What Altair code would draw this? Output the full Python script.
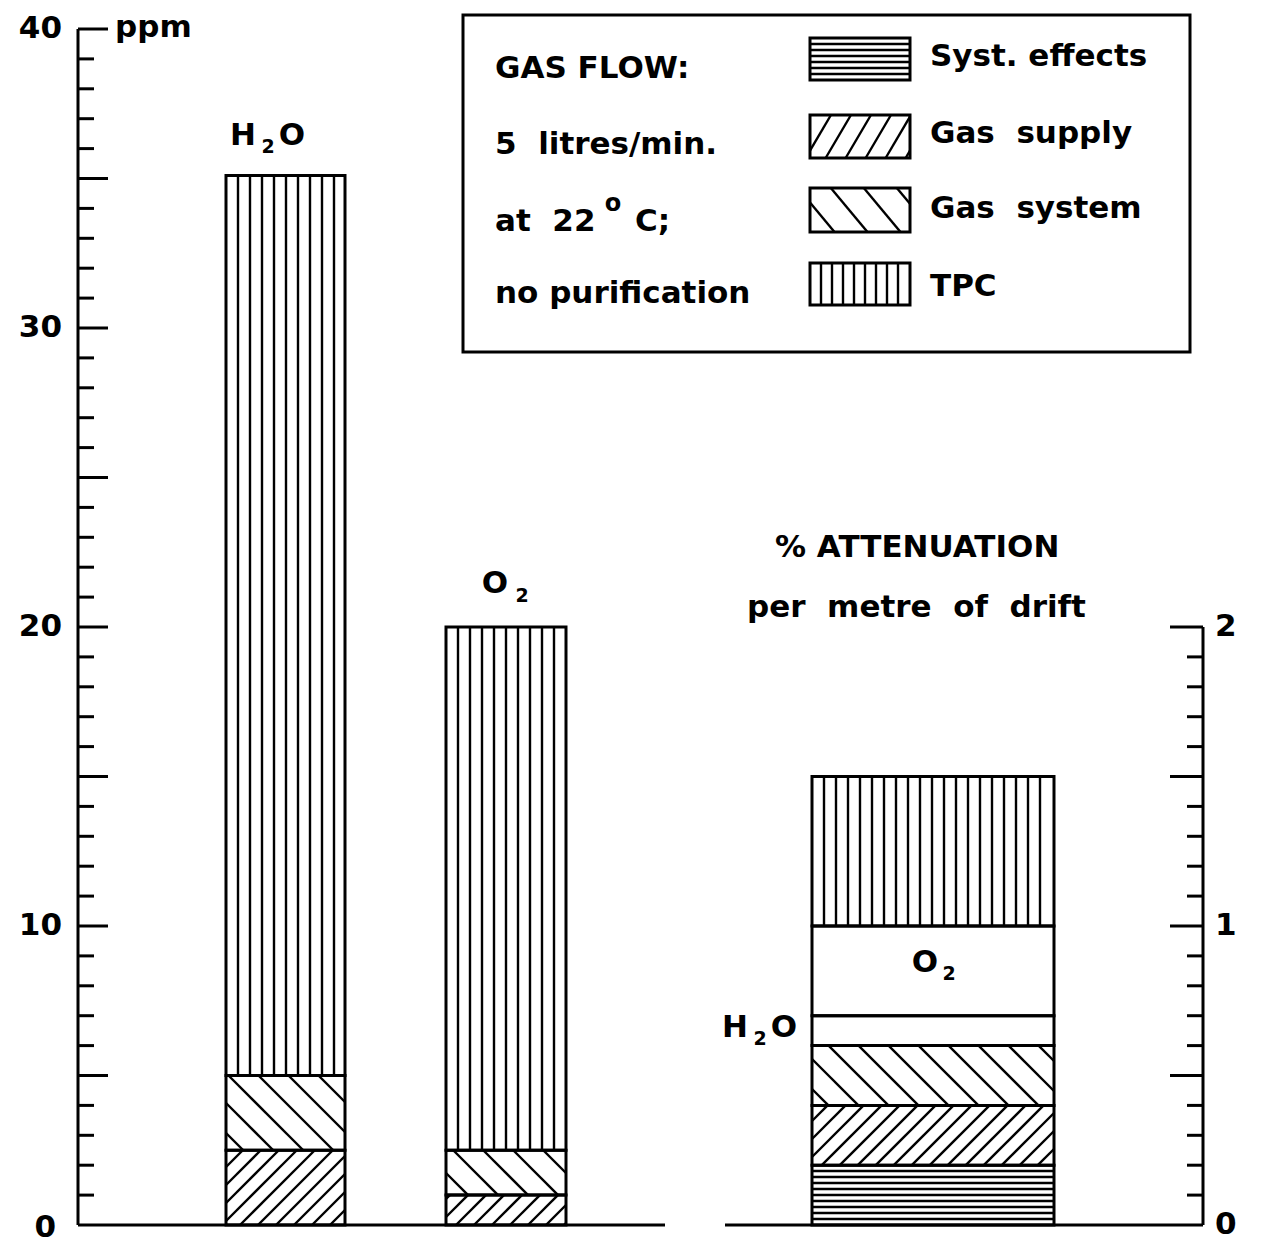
import math
import altair as alt
import pandas as pd

# ---------------- data ----------------
contam_categories = ["Gas supply", "Gas system", "TPC"]
h2o_ppm = [2.5, 2.5, 30.1]          # stacked contributions, ppm
o2_ppm = [1.0, 1.5, 17.5]           # stacked contributions, ppm

atten_categories = ["Syst. effects", "Gas supply", "Gas system", "H2O", "O2", "TPC"]
atten_pct = [0.2, 0.2, 0.2, 0.1, 0.3, 0.5]   # % attenuation per metre of drift

ppm_label_values = [0, 10, 20, 30, 40]
ppm_major_ticks = [5, 10, 15, 20, 25, 30, 35, 40]
ppm_minor_ticks = [v for v in range(1, 40) if v % 5 != 0]
att_label_values = [0, 1, 2]
att_major_ticks = [0.5, 1.0, 1.5, 2.0]
att_minor_ticks = [round(0.1 * i, 1) for i in range(1, 20) if i % 5 != 0]

legend_categories = ["Syst. effects", "Gas\u00a0 supply", "Gas\u00a0 system", "TPC"]
legend_category_keys = ["Syst. effects", "Gas supply", "Gas system", "TPC"]
legend_notes = ["GAS FLOW:", "5\u00a0 litres/min.", "at\u00a0 22", "no purification"]

# ---------------- layout ----------------
W, H = 1125, 1196
TOP = 21                     # plot-area top, px inside the chart
OFF = 4                      # pixel-layout values below were measured for a plot top 4 px higher
YMAX = 40.0
K = H / YMAX                 # px per ppm
PCT_TO_PPM = 10.0            # 1 % attenuation drawn as 10 ppm of height
bar_x = {"H2O": (148, 267), "O2": (368, 488), "ATT": (734, 976)}
FONT = "DejaVu Sans"
FS = 31
SUB = 19

pattern = {"Syst. effects": ("h", 6, 1.0), "Gas supply": ("fwd", 18, 1.0),
           "Gas system": ("back", 30, 1.0), "TPC": ("v", 12, 1.0),
           "H2O": (None, 0, 0), "O2": (None, 0, 0)}
legend_pattern = {"Syst. effects": ("h", 6, 1.0), "Gas supply": ("fwd", 20, 1.7),
                  "Gas system": ("back", 33, 1.2), "TPC": ("v", 11, 1.0)}


def hatch(x0, x1, y0, y1, kind, d, m):
    u0, u1, v0, v1 = x0, x1, y0 * K, y1 * K
    segs = []
    if kind == "v":
        u = u0 + d
        while u < u1 - 3:
            segs.append((u, u, v0, v1)); u += d
    elif kind == "h":
        v = v0 + d
        while v < v1 - 2:
            segs.append((u0, u1, v, v)); v += d
    elif kind == "fwd":
        for k in range(math.floor((u0 - v1 / m) / d), math.ceil((u1 - v0 / m) / d) + 1):
            c = k * d
            lo, hi = max(u0, c + v0 / m), min(u1, c + v1 / m)
            if hi - lo > 1:
                segs.append((lo, hi, m * (lo - c), m * (hi - c)))
    elif kind == "back":
        for k in range(math.floor((u0 + v0 / m) / d), math.ceil((u1 + v1 / m) / d) + 1):
            c = k * d
            lo, hi = max(u0, c - v1 / m), min(u1, c - v0 / m)
            if hi - lo > 1:
                segs.append((lo, hi, m * (c - lo), m * (c - hi)))
    return [dict(x=a, x2=b, y=va / K, y2=vb / K) for a, b, va, vb in segs]


rects, lines = [], []


def add_stack(bar, cats, vals, scale):
    x0, x1 = bar_x[bar]
    base = 0.0
    for c, v in zip(cats, vals):
        top = base + v * scale
        rects.append(dict(x=x0, x2=x1, y=base, y2=top, cat=c))
        kind, d, m = pattern[c]
        if kind:
            lines.extend(hatch(x0, x1, base, top, kind, d, m))
        base = top


add_stack("H2O", contam_categories, h2o_ppm, 1.0)
add_stack("O2", contam_categories, o2_ppm, 1.0)
add_stack("ATT", atten_categories, atten_pct, PCT_TO_PPM)

# legend swatches (pixel layout -> data units)
sw_x = (732, 832)
sw_y = [(13, 55), (90, 133), (163, 207), (238, 280)]
for c, (ya, yb) in zip(legend_category_keys, sw_y):
    ya, yb = ya - OFF, yb - OFF
    y0, y1 = (H - yb) / K, (H - ya) / K
    rects.append(dict(x=sw_x[0], x2=sw_x[1], y=y0, y2=y1, cat=c))
    kind, d, m = legend_pattern[c]
    lines.extend(hatch(sw_x[0], sw_x[1], y0, y1, kind, d, m))

rect_df = pd.DataFrame(rects)
line_df = pd.DataFrame(lines)

xs = alt.Scale(domain=[0, W], nice=False, zero=False)
ys = alt.Scale(domain=[0, YMAX], nice=False, zero=False)
X = lambda f: alt.X(f, type="quantitative", scale=xs, axis=None)
Y = lambda f: alt.Y(f, type="quantitative", scale=ys, axis=None)

bars_fill = alt.Chart(rect_df).mark_rect(fill="white", strokeWidth=0).encode(
    x=X("x"), x2="x2", y=Y("y"), y2="y2")
hatch_layer = alt.Chart(line_df).mark_rule(color="black", strokeWidth=2.4).encode(
    x=X("x"), x2="x2", y=Y("y"), y2="y2")
bars_outline = alt.Chart(rect_df).mark_rect(
    fillOpacity=0, stroke="black", strokeWidth=3).encode(
    x=X("x"), x2="x2", y=Y("y"), y2="y2")

# left axis
left_line = alt.Chart(pd.DataFrame({"y": [0], "y2": [YMAX]})).mark_rule(
    color="black", strokeWidth=3).encode(x=alt.value(0), y=Y("y"), y2="y2")
left_major = alt.Chart(pd.DataFrame({"v": ppm_major_ticks})).mark_rule(
    color="black", strokeWidth=3).encode(y=Y("v"), x=alt.value(0), x2=alt.value(30))
left_minor = alt.Chart(pd.DataFrame({"v": ppm_minor_ticks})).mark_rule(
    color="black", strokeWidth=3).encode(y=Y("v"), x=alt.value(0), x2=alt.value(16))
lab_df = pd.DataFrame({"v": ppm_label_values, "t": [str(v) for v in ppm_label_values]})
left_labels = alt.Chart(lab_df[lab_df.v > 0]).mark_text(
    font=FONT, fontSize=FS, fontWeight="bold", align="right", baseline="middle").encode(
    y=Y("v"), x=alt.value(-16), text="t")
zero_label = alt.Chart(lab_df[lab_df.v == 0]).mark_text(
    font=FONT, fontSize=FS, fontWeight="bold", align="right", baseline="middle",
    dy=3, dx=-6).encode(y=Y("v"), x=alt.value(-16), text="t")

# baselines
base_df = pd.DataFrame({"x": [0, 647], "x2": [587, W], "y": [0, 0]})
baselines = alt.Chart(base_df).mark_rule(color="black", strokeWidth=3).encode(
    x=X("x"), x2="x2", y=Y("y"))

# right axis (attenuation)
att_top = max(att_label_values) * PCT_TO_PPM
right_line = alt.Chart(pd.DataFrame({"y": [0], "y2": [att_top]})).mark_rule(
    color="black", strokeWidth=3).encode(x=alt.value(W), y=Y("y"), y2="y2")
right_major = alt.Chart(pd.DataFrame({"v": [t * PCT_TO_PPM for t in att_major_ticks]})).mark_rule(
    color="black", strokeWidth=3).encode(y=Y("v"), x=alt.value(W - 33), x2=alt.value(W))
right_minor = alt.Chart(pd.DataFrame({"v": [t * PCT_TO_PPM for t in att_minor_ticks]})).mark_rule(
    color="black", strokeWidth=3).encode(y=Y("v"), x=alt.value(W - 16), x2=alt.value(W))
right_labels = alt.Chart(pd.DataFrame({"v": [t * PCT_TO_PPM for t in att_label_values],
                                       "t": [str(t) for t in att_label_values]})).mark_text(
    font=FONT, fontSize=FS, fontWeight="bold", align="left", baseline="middle").encode(
    y=Y("v"), x=alt.value(W + 12), text="t")

# legend box and texts
legend_box = alt.Chart(pd.DataFrame({"a": [0]})).mark_rect(
    fillOpacity=0, stroke="black", strokeWidth=3).encode(
    x=alt.value(385), x2=alt.value(1112), y=alt.value(-10 - OFF), y2=alt.value(327 - OFF))


def txt(items, align):
    df = pd.DataFrame(items, columns=["t", "px", "py", "s"])
    df["py"] = df["py"] - OFF
    return alt.Chart(df).mark_text(font=FONT, fontWeight="bold",
                                   align=align, baseline="alphabetic").encode(
        x=alt.X("px:Q", scale=None, axis=None), y=alt.Y("py:Q", scale=None, axis=None),
        size=alt.Size("s:Q", scale=None, legend=None), text="t")


left_items = (
    [(t, 417, yy, FS) for t, yy in zip(legend_notes, [53, 129, 206, 278])] +
    [(t, 852, yy, FS) for t, yy in zip(legend_categories, [41, 118, 193, 271])] +
    [("C;", 557, 206, FS), ("ppm", 37, 12, FS),
     ("% ATTENUATION", 697, 532, FS),
     ("per\u00a0 metre\u00a0 of\u00a0 drift", 669, 592, FS)]
)
left_txt = txt(left_items, "left")
center_items = [
    ("o", 535, 186, 24),
    # H2O over the H2O bar
    ("H", 165, 120, FS), ("2", 190, 128, SUB), ("O", 214, 120, FS),
    # O2 over the O2 bar
    ("O", 417, 568, FS), ("2", 444, 577, SUB),
    # O2 inside the attenuation bar
    ("O", 847, 947, FS), ("2", 871, 955, SUB),
    # H2O beside the attenuation bar
    ("H", 657, 1012, FS), ("2", 682, 1020, SUB), ("O", 706, 1012, FS),
]
center_txt = txt(center_items, "center")

chart = alt.layer(
    bars_fill, hatch_layer, bars_outline,
    baselines, left_line, left_major, left_minor, left_labels, zero_label,
    right_line, right_major, right_minor, right_labels,
    legend_box, left_txt, center_txt,
).properties(
    width=W, height=H,
    autosize=alt.AutoSizeParams(type="none"),
    padding={"left": 70, "top": TOP, "right": 53, "bottom": 24},
    background="white",
).configure_view(stroke=None)

chart.save("out.html", embed_options={"renderer": "svg", "actions": False})
